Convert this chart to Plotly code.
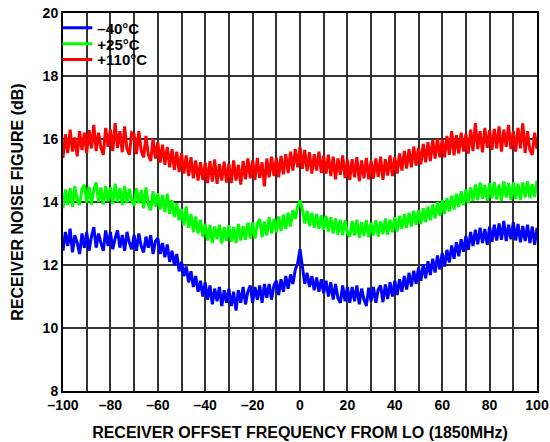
import plotly.graph_objects as go

freq_mhz = list(range(-100, 101))

nf_minus40 = [
    12.45, 13.05, 12.60, 13.15, 12.40, 12.95, 12.70, 12.35, 13.00, 12.55,
    13.05, 12.45, 12.90, 13.20, 12.55, 13.00, 12.70, 12.45, 13.10, 12.60,
    13.05, 12.50, 12.85, 13.10, 12.55, 12.95, 12.45, 13.05, 12.70, 12.50,
    12.95, 12.45, 13.00, 12.60, 12.40, 12.90, 12.55, 12.95, 12.35, 12.75,
    12.85, 12.35, 12.70, 12.25, 12.65, 12.10, 12.45, 12.00, 12.35, 11.80,
    12.10, 11.65, 11.95, 11.45, 11.80, 11.30, 11.65, 11.15, 11.50, 11.00,
    11.45, 10.90, 11.35, 10.75, 11.25, 10.85, 11.30, 10.70, 11.20, 10.80,
    11.25, 10.70, 11.15, 10.55, 11.20, 10.80, 11.30, 10.75, 11.15, 11.35,
    10.80, 11.30, 10.90, 11.35, 10.80, 11.40, 10.95, 11.40, 10.90, 11.35,
    11.50, 11.05, 11.55, 11.15, 11.65, 11.25, 11.70, 11.40, 11.85, 12.05,
    12.50,
    11.90, 11.40, 11.75, 11.30, 11.65, 11.20, 11.60, 11.15, 11.55, 11.10,
    11.50, 11.00, 11.45, 10.90, 11.40, 10.95, 10.80, 11.35, 10.85, 11.30,
    10.80, 11.30, 10.85, 11.35, 10.75, 11.25, 10.90, 10.70, 11.28, 10.85,
    11.30, 10.80, 11.22, 11.35, 10.82, 11.38, 10.92, 11.45, 11.00, 11.50,
    11.05, 11.55, 11.15, 11.65, 11.22, 11.75, 11.32, 11.82, 11.40, 11.92,
    11.50, 12.02, 11.58, 12.12, 11.68, 12.20, 11.76, 12.30, 11.86, 12.38,
    11.95, 12.48, 12.08, 12.62, 12.20, 12.72, 12.28, 12.82, 12.42, 12.92,
    12.48, 13.05, 12.60, 13.12, 12.66, 13.18, 12.70, 13.14, 12.64, 13.22,
    12.74, 13.28, 12.78, 13.32, 12.80, 13.40, 12.76, 13.28, 12.82, 13.36,
    12.78, 13.30, 12.72, 13.24, 12.76, 13.28, 12.70, 13.22, 12.64, 13.18,
]

nf_plus25 = [
    13.80, 14.40, 13.90, 14.45, 13.85, 14.50, 14.05, 13.90, 14.42, 14.55,
    13.98, 14.48, 13.92, 14.40, 14.62, 14.00, 14.46, 13.92, 14.50, 14.02,
    14.46, 13.95, 14.58, 14.00, 14.44, 13.90, 14.50, 13.96, 14.42, 14.05,
    13.88, 14.44, 13.95, 14.38, 13.80, 14.46, 13.92, 13.74, 14.34, 13.86,
    14.28, 13.76, 14.22, 13.68, 14.26, 13.62, 14.06, 13.52, 13.96, 13.42,
    13.78, 13.26, 13.86, 13.18, 13.62, 13.04, 13.54, 13.00, 13.44, 12.90,
    13.30, 12.78, 13.26, 12.70, 13.22, 12.82, 13.28, 12.68, 13.20, 12.76,
    13.26, 12.74, 13.20, 12.70, 13.30, 12.78, 13.24, 12.80, 13.34, 12.84,
    13.36, 12.84, 13.30, 13.46, 12.88, 13.38, 12.94, 13.52, 13.00, 13.46,
    13.04, 13.54, 13.08, 13.60, 13.14, 13.66, 13.22, 13.74, 13.46, 13.85,
    14.05,
    13.78, 13.32, 13.72, 13.24, 13.66, 13.18, 13.62, 13.14, 13.58, 13.12,
    13.56, 13.06, 13.52, 13.00, 13.48, 12.96, 13.44, 12.94, 13.42, 13.02,
    12.90, 13.40, 12.94, 13.44, 12.86, 13.36, 12.92, 13.42, 12.88, 13.34,
    12.94, 13.42, 12.90, 13.38, 12.98, 13.48, 12.96, 13.44, 13.04, 13.52,
    13.06, 13.56, 13.14, 13.62, 13.18, 13.66, 13.22, 13.72, 13.28, 13.74,
    13.30, 13.80, 13.36, 13.86, 13.42, 13.92, 13.48, 14.00, 13.56, 14.06,
    13.62, 14.12, 13.70, 14.20, 13.76, 14.26, 13.84, 14.34, 13.90, 14.40,
    13.96, 14.46, 14.04, 14.56, 14.06, 14.62, 14.10, 14.54, 14.04, 14.60,
    14.12, 14.64, 14.08, 14.56, 14.04, 14.66, 14.14, 14.60, 14.06, 14.62,
    14.10, 14.58, 14.06, 14.62, 14.14, 14.66, 14.12, 14.56, 14.16, 14.68,
]

nf_plus110 = [
    15.40, 16.15, 15.55, 16.30, 15.60, 16.05, 15.45, 16.25, 15.65, 16.20,
    15.55, 16.28, 15.70, 16.45, 15.62, 16.20, 15.72, 15.50, 16.35, 15.75,
    16.30, 15.62, 16.50, 15.72, 16.25, 15.58, 16.40, 15.68, 15.50, 16.20,
    16.15, 15.52, 16.25, 15.62, 15.42, 16.10, 15.50, 15.30, 16.02, 15.38,
    15.90, 15.25, 15.82, 15.18, 15.75, 15.10, 15.68, 15.02, 15.60, 14.95,
    15.55, 14.90, 15.48, 14.82, 15.42, 14.75, 15.32, 14.68, 15.26, 14.70,
    15.25, 14.60, 15.30, 14.65, 15.35, 14.58, 15.20, 14.68, 15.28, 14.62,
    15.22, 14.60, 15.32, 14.68, 15.18, 14.55, 15.30, 14.72, 15.38, 14.75,
    15.32, 14.70, 15.40, 14.76, 15.26, 14.50, 15.38, 14.78, 15.44, 14.82,
    15.40, 14.78, 15.46, 14.88, 15.52, 14.92, 15.60, 15.00, 15.68, 15.10,
    15.75,
    15.05, 15.65, 14.98, 15.58, 14.90, 15.52, 15.00, 15.60, 14.92, 15.48,
    14.90, 15.50, 14.82, 15.44, 14.72, 15.38, 14.86, 15.48, 14.76, 15.34,
    14.70, 15.36, 14.78, 15.42, 14.66, 15.32, 14.75, 15.40, 14.72, 15.30,
    14.74, 15.38, 14.80, 15.44, 14.70, 15.36, 14.84, 15.48, 14.82, 15.42,
    14.90, 15.54, 15.00, 15.62, 15.06, 15.68, 15.10, 15.76, 15.16, 15.72,
    15.20, 15.84, 15.26, 15.90, 15.30, 15.96, 15.38, 16.02, 15.42, 15.98,
    15.42, 16.10, 15.50, 16.25, 15.48, 16.12, 15.54, 16.20, 15.60, 16.16,
    15.54, 16.30, 15.62, 16.50, 15.68, 16.25, 15.58, 16.35, 15.72, 16.28,
    15.66, 16.32, 15.70, 16.40, 15.60, 16.30, 15.75, 16.45, 15.68, 16.25,
    15.60, 16.35, 15.70, 16.50, 15.55, 16.25, 15.65, 15.50, 16.20, 15.68,
]

series_names = ["\u201340\u00b0C", "+25\u00b0C", "+110\u00b0C"]
series_colors = ["#0000ff", "#00ff00", "#ff0000"]

x_tickvals = list(range(-100, 101, 10))
x_ticktext = ["\u2013100", "", "\u201380", "", "\u201360", "", "\u201340", "", "\u201320", "",
              "0", "", "20", "", "40", "", "60", "", "80", "", "100"]
y_tickvals = [8, 10, 12, 14, 16, 18, 20]
y_ticktext = ["8", "10", "12", "14", "16", "18", "20"]

FONT = "Liberation Sans, Arial, sans-serif"

fig = go.Figure()
legend_ids = ["legend", "legend2", "legend3"]
for name, ys, col, lg in zip(series_names, [nf_minus40, nf_plus25, nf_plus110],
                             series_colors, legend_ids):
    fig.add_trace(go.Scatter(x=freq_mhz, y=ys, mode="lines", name=name, legend=lg,
                             line=dict(color=col, width=3)))

axis_common = dict(showline=True, linecolor="black", linewidth=2, mirror=True,
                   showgrid=True, gridcolor="#333333", gridwidth=1.5,
                   zeroline=False, ticks="", automargin=False,
                   ticklabeloverflow="allow",
                   tickfont=dict(family=FONT, size=14, color="black", weight="bold"))

legend_font = dict(family=FONT, size=15, color="black", weight="bold")
legend_common = dict(x=-0.012, xanchor="left", yanchor="middle",
                     bgcolor="rgba(0,0,0,0)", borderwidth=0,
                     font=legend_font, itemwidth=30)

title_font = dict(family=FONT, size=16, color="black", weight="bold")

fig.update_layout(
    width=550, height=442,
    margin=dict(l=63, r=13, t=11, b=51),
    paper_bgcolor="white", plot_bgcolor="white",
    font=dict(family=FONT, color="black"),
    showlegend=True,
    legend=dict(y=0.9605, **legend_common),
    legend2=dict(y=0.918, **legend_common),
    legend3=dict(y=0.876, **legend_common),
    xaxis=dict(range=[-100, 100], tickvals=x_tickvals, ticktext=x_ticktext,
               title=dict(text="RECEIVER OFFSET FREQUENCY FROM LO (1850MHz)", font=title_font),
               **axis_common),
    yaxis=dict(range=[8, 20], tickvals=y_tickvals, ticktext=y_ticktext,
               title=dict(text="RECEIVER NOISE FIGURE (dB)", font=title_font),
               **axis_common),
)

fig.write_html("out.html",
               config={"displayModeBar": False},
               post_script="document.body.style.margin='0';document.body.style.overflow='hidden';")
